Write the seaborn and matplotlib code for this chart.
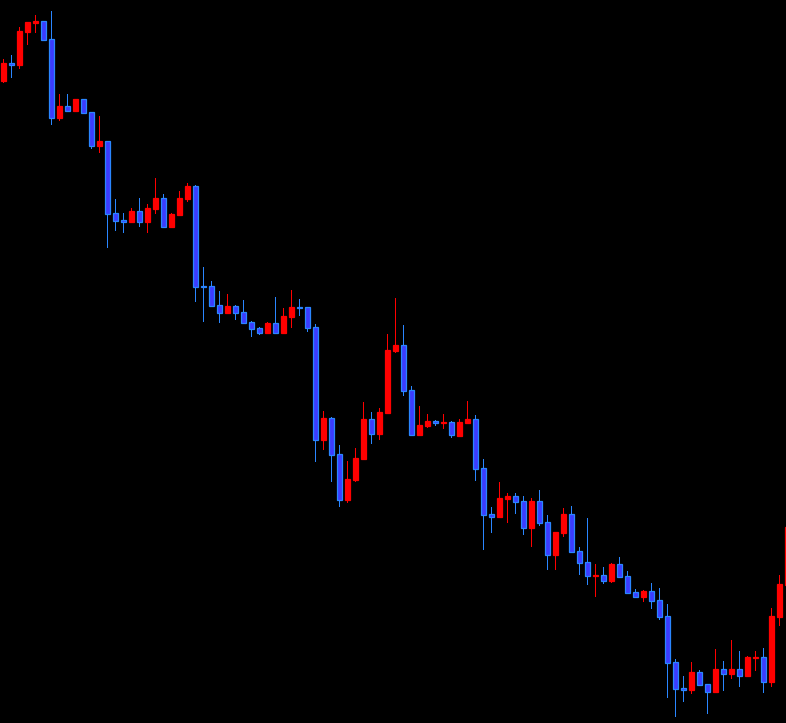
import numpy as np
import pandas as pd
import matplotlib
matplotlib.use("Agg")
import matplotlib.pyplot as plt
import seaborn as sns

opens = [642, 660, 658, 691, 700, 702, 684, 605, 617, 612,
         624, 611, 577, 582, 510, 503, 501, 512, 501, 514,
         525, 496, 508, 524, 537, 437, 437, 418, 410, 417,
         411, 401, 395, 390, 400, 390, 406, 416, 416, 396,
         283, 305, 269, 223, 243, 264, 304, 289, 310, 372,
         378, 333, 288, 297, 302, 300, 301, 287, 300, 304,
         255, 209, 206, 224, 227, 222, 195, 222, 201, 168,
         190, 209, 172, 161, 147, 148, 142, 159, 147, 131,
         126, 132, 123, 107, 61, 35, 33, 51, 39, 31,
         54, 49, 54, 47, 65, 66, 41, 106, 138]
highs = [664, 668, 696, 701, 708, 702, 712, 629, 629, 624,
         624, 611, 607, 582, 524, 510, 515, 525, 519, 545,
         529, 510, 532, 540, 538, 456, 442, 432, 429, 418,
         423, 402, 396, 401, 426, 415, 433, 424, 416, 399,
         312, 306, 278, 262, 275, 321, 311, 315, 389, 425,
         398, 337, 317, 309, 303, 309, 302, 304, 322, 308,
         264, 216, 241, 230, 230, 227, 225, 233, 208, 191,
         215, 217, 176, 205, 159, 156, 160, 166, 152, 134,
         133, 140, 135, 119, 64, 47, 61, 53, 39, 74,
         62, 83, 72, 67, 72, 75, 115, 148, 198]
lows = [640, 645, 654, 678, 690, 682, 598, 602, 612, 611,
        610, 574, 570, 475, 492, 490, 500, 496, 490, 509,
        496, 495, 507, 521, 421, 401, 417, 400, 410, 403,
        400, 386, 388, 390, 390, 390, 395, 407, 391, 261,
        273, 241, 216, 220, 241, 264, 279, 283, 310, 370,
        327, 288, 288, 295, 297, 294, 285, 286, 299, 242,
        173, 190, 205, 200, 209, 188, 176, 197, 153, 153,
        186, 171, 148, 138, 126, 139, 140, 146, 129, 126,
        121, 114, 103, 25, 6, 21, 29, 38, 9, 30,
        32, 44, 36, 46, 52, 30, 36, 97, 137]
closes = [660, 658.5, 692, 701, 702, 683, 605, 617, 612, 624,
          610, 577, 582, 509, 502, 501, 512, 501, 515, 525,
          496, 509, 525, 537, 436, 436, 417, 410, 417, 410,
          400, 394, 390, 400, 390, 407, 416, 415, 395, 283,
          305, 268, 223, 244, 265, 304, 289, 311, 373, 378,
          332, 288, 298, 302, 300, 301, 288, 301, 304, 254,
          208, 206, 225, 227, 221, 195, 222, 200, 168, 191,
          209, 171, 160, 147, 148, 142, 159, 146, 130, 126,
          132, 122, 106, 60, 34, 33, 51, 38, 31, 54,
          49, 54, 47, 66, 66, 41, 107, 139, 196]

df = pd.DataFrame({"open": opens, "high": highs, "low": lows, "close": closes})
df["idx"] = np.arange(len(df))
df["up"] = df["close"] >= df["open"]

sns.set_theme(style="dark")
plt.rcParams['font.family'] = ['DejaVu Sans']

BG = "#000000"
UP_FILL, UP_EDGE, UP_WICK = "#ff0000", "#ff0000", "#ff0000"
DN_FILL, DN_EDGE, DN_WICK = "#3c3cff", "#2a86ff", "#2a86ff"

fig = plt.figure(figsize=(7.86, 7.23), dpi=100, facecolor=BG)
ax = fig.add_axes([0, 0, 1, 1])
ax.set_facecolor(BG)

# wicks (drawn as 1-pixel-wide bars)
for up, wc in ((True, UP_WICK), (False, DN_WICK)):
    sub = df[df["up"] == up]
    ax.bar(sub["idx"], sub["high"] - sub["low"], bottom=sub["low"], width=0.13,
           color=wc, linewidth=0, antialiased=False, zorder=1)

# bodies
width = 0.56
for up, fc, ec in ((True, UP_FILL, UP_EDGE), (False, DN_FILL, DN_EDGE)):
    sub = df[df["up"] == up]
    bottom = np.minimum(sub["open"], sub["close"])
    height = np.maximum(np.abs(sub["close"] - sub["open"]), 1.0)
    ax.bar(sub["idx"], height, bottom=bottom, width=width, color=fc,
           edgecolor=ec, linewidth=0.9, zorder=2)

ax.set_xlim(-0.4125, 97.8375)
ax.set_ylim(0, 723)
ax.axis("off")

fig.savefig("out.png", dpi=100, facecolor=BG)
